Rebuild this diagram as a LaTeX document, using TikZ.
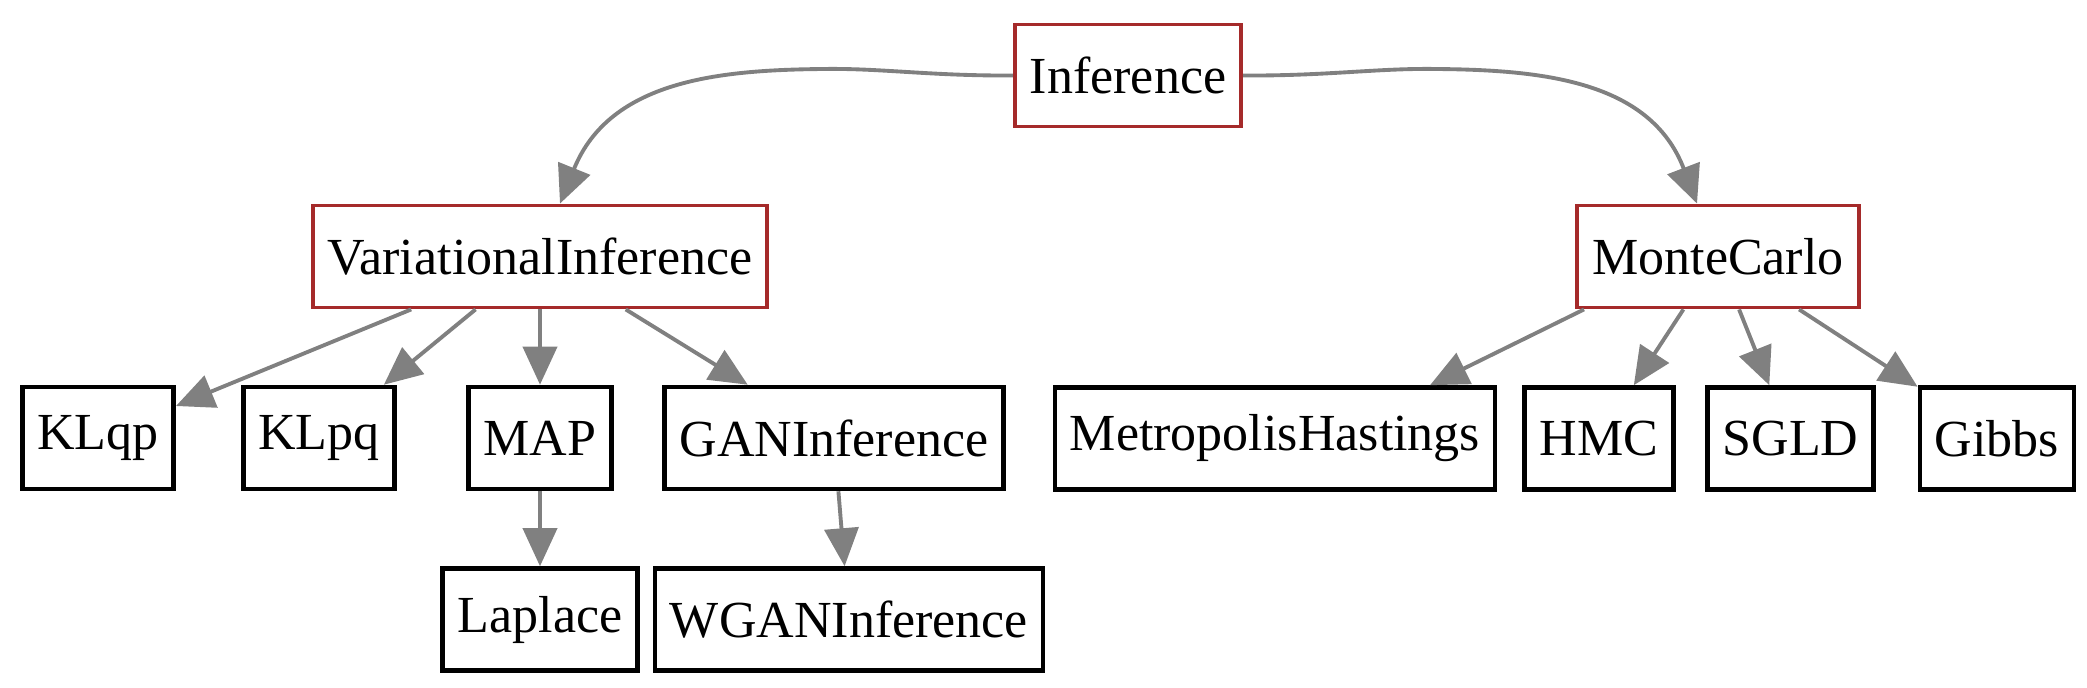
\documentclass[tikz,border=0pt]{standalone}
\usepackage{fontspec}
\setmainfont{Liberation Serif}
\usepackage{tikz}
\usetikzlibrary{arrows.meta,positioning,calc}
\definecolor{grp}{RGB}{165,42,42}
\definecolor{link}{RGB}{128,128,128}

\begin{document}
\begin{tikzpicture}[every node/.style={font=\fontsize{14.8}{17}\selectfont},
  cls/.style={draw, line width=1.3pt, inner xsep=0.15cm, minimum height=1.02cm},
  base/.style={cls, draw=grp, line width=1.1pt},
  edge/.style={draw=link, line width=1.1pt, -{Triangle[length=0.38cm, width=0.34cm]}}]
\useasboundingbox (0,0) rectangle (20.87,-6.87);
% ---- top and the two families
\node[base] (inference) at (11.28,-0.755) {Inference};
\node[base] (varinf) at (5.40,-2.565) {VariationalInference};
\node[base] (montecarlo) at (17.18,-2.565) {MonteCarlo};
% ---- variational methods
\node[cls] (klqp) at (0.98,-4.38) {KLqp};
\node[cls] (klpq) at (3.19,-4.38) {KLpq};
\node[cls] (map) at (5.40,-4.38) {MAP};
\node[cls] (gan) at (8.34,-4.38) {GANInference};
\node[cls] (laplace) at (5.40,-6.195) {Laplace};
\node[cls] (wgan) at (8.49,-6.195) {WGANInference};
% ---- monte carlo methods
\node[cls] (mh) at (12.75,-4.385) {MetropolisHastings};
\node[cls] (hmc) at (15.99,-4.385) {HMC};
\node[cls] (sgld) at (17.905,-4.385) {SGLD};
\node[cls] (gibbs) at (19.97,-4.385) {Gibbs};
% ---- edges
\draw[edge] (inference.west) .. controls (9.30,-0.76) and (8.80,-0.68) .. (8.23,-0.69)
  .. controls (7.20,-0.70) and (6.10,-0.80) .. ([xshift=2mm]varinf.north);
\draw[edge] (inference.east) .. controls (13.28,-0.76) and (13.78,-0.68) .. (14.37,-0.69)
  .. controls (15.40,-0.70) and (16.50,-0.80) .. ([xshift=-2.1mm]montecarlo.north);
\draw[edge] (varinf) -- (klqp);
\draw[edge] (varinf) -- (klpq);
\draw[edge] (varinf) -- (map);
\draw[edge] (varinf) -- (gan);
\draw[edge] (map) -- (laplace);
\draw[edge] (gan) -- (wgan);
\draw[edge] ([xshift=-13.4mm]montecarlo.south) -- ([xshift=15.5mm]mh.north);
\draw[edge] (montecarlo) -- (hmc);
\draw[edge] (montecarlo) -- (sgld);
\draw[edge] (montecarlo) -- (gibbs);
\end{tikzpicture}
\end{document}
